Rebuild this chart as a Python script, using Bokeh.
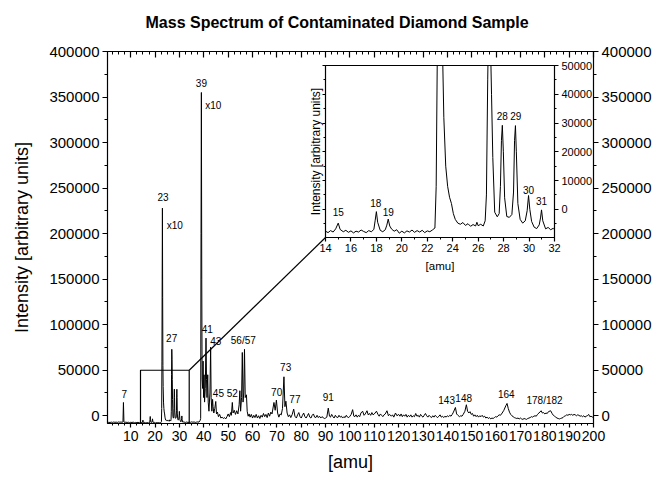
from bokeh.plotting import figure
from bokeh.models import LinearAxis, SingleIntervalTicker, BasicTickFormatter, Range1d
from bokeh.core.properties import value
from bokeh.embed import file_html
from bokeh.resources import INLINE

# ---------------- data ----------------
mz_low = [0.5, 1.0, 1.5, 2.0, 2.5, 3.0, 3.5, 4.0, 4.5, 5.0, 5.5, 6.0, 6.5, 6.8, 7.0, 7.2,
          7.5, 8.0, 8.5, 9.0, 9.5, 10.0, 10.5, 11.0, 11.5, 12.0, 12.5, 13.0, 13.5]
int_low = [-7500, -7200, -7400, -7000, -7300, -6900, -7200, -7000, -7300, -6800, -7100, -6900,
           -7200, -6800, 14600, -6900, -7300, -7000, -7400, -7100, -7500, -7200, -7400, -7000,
           -7600, -7300, -7500, -7200, -7700]

mz_zoom = [14.0, 14.2, 14.4, 14.6, 14.8, 15.0, 15.15, 15.4, 15.6, 15.8, 16.0, 16.2, 16.4, 16.6,
           16.8, 17.0, 17.2, 17.4, 17.6, 17.8, 17.9, 18.0, 18.1, 18.3, 18.5, 18.7, 18.82, 18.93,
           19.05, 19.2, 19.4, 19.6, 19.8, 20.0, 20.2, 20.4, 20.6, 20.8, 21.0, 21.2, 21.4, 21.6,
           21.8, 22.0, 22.2, 22.4, 22.6, 22.7, 22.8, 22.9, 23.0, 23.1, 23.2, 23.3, 23.45, 23.6,
           23.75, 23.9, 24.05, 24.2, 24.4, 24.6, 24.8, 25.0, 25.2, 25.4, 25.6, 25.8, 25.9, 26.0,
           26.2, 26.4, 26.55, 26.65, 26.75, 26.85, 26.95, 27.05, 27.15, 27.3, 27.5, 27.65, 27.75,
           27.83, 27.9, 27.98, 28.08, 28.25, 28.45, 28.65, 28.78, 28.86, 28.93, 29.0, 29.12, 29.3,
           29.5, 29.7, 29.85, 29.96, 30.06, 30.2, 30.4, 30.6, 30.8, 30.9, 30.98, 31.08, 31.3,
           31.5, 31.7, 31.9]
int_zoom = [-7600, -8100, -7400, -7900, -6800, -4800, -7000, -7800, -7300, -8000, -7500, -8200,
            -7600, -7900, -7200, -7700, -8100, -7400, -7800, -7000, -4000, -800, -4500, -7300,
            -7800, -7100, -5500, -3400, -5800, -6900, -7600, -7100, -8300, -7600, -8200, -7500,
            -7900, -7200, -8000, -7400, -7900, -7300, -8100, -7500, -7800, -7200, -6500, 8000,
            60000, 150000, 228000, 130000, 55000, 32000, 15000, 8000, 4200, 2000, -1500, -3500,
            -4800, -5200, -4600, -5600, -5000, -5900, -5300, -5800, -4500, -5700, -5200, -5800,
            -4000, 5000, 45000, 73000, 62000, 40000, 18000, -1000, -2600, -1500, 8000, 24000,
            29200, 20000, 4000, -2500, -2800, -1800, 6000, 24000, 29100, 20000, 2000, -3500,
            -4800, -4000, -500, 4800, 0, -4200, -6200, -6700, -5400, -3000, -200, -4000, -6800,
            -6300, -7100, -6600]

mz_high = [32.0, 32.5, 33.0, 33.5, 34.0, 34.5, 35.0, 35.5, 36.0, 36.5, 37.0, 37.5, 38.0, 38.5,
           38.7, 38.85, 39.0, 39.15, 39.3, 39.5, 39.7, 39.9, 40.1, 40.3, 40.6, 40.9, 41.1, 41.3,
           41.6, 41.8, 42.1, 42.5, 42.8, 43.0, 43.3, 43.6, 43.8, 44.1, 44.5, 44.9, 45.2, 45.6,
           46.0, 46.5, 47.0, 47.5, 48.0, 48.5, 49.0, 49.5, 50.0, 50.5, 51.0, 51.3, 51.7, 52.0,
           52.5, 53.0, 53.5, 54.0, 54.5, 54.8, 55.1, 55.5, 55.8, 56.1, 56.4, 56.7, 57.0, 57.5,
           57.8, 58.2, 58.6, 59.0, 59.5, 60.0, 60.5, 61.0, 61.5, 62.0, 62.5, 63.0, 63.5, 64.0,
           64.5, 65.0, 65.5, 66.0, 66.5, 67.0, 67.5, 68.0, 68.8, 69.3, 69.8, 70.3, 70.8, 71.3,
           71.8, 72.3, 72.9, 73.3, 73.7, 74.2, 74.7, 75.2, 75.7, 76.3, 76.9, 77.4, 78.0, 78.5,
           79.0, 79.5, 80.0, 80.5, 81.0, 81.5, 82.0, 82.5, 83.0, 83.5, 84.0, 84.5, 85.0, 85.5,
           86.0, 86.5, 87.0, 87.5, 88.0, 88.5, 89.0, 89.5, 90.0, 90.5, 91.1, 91.6, 92.0, 92.5,
           93.0, 93.5, 94.0, 94.5, 95.0, 95.5, 96.0, 96.5, 97.0, 97.5, 98.0, 98.5, 99.0, 99.5,
           100.0, 100.5, 101.1, 101.6, 102.0, 102.5, 103.0, 103.5, 104.0, 104.5, 105.2, 105.8,
           106.3, 107.0, 107.5, 108.0, 108.5, 109.0, 109.5, 110.0, 110.9, 111.5, 112.0, 112.5,
           113.0, 113.5, 114.0, 114.5, 115.2, 115.8, 116.3, 117.0, 117.5, 118.0, 118.7, 119.3,
           120.0, 120.5, 121.0, 121.5, 122.0, 122.5, 123.0, 123.5, 124.0, 124.5, 125.0, 125.5,
           126.0, 126.5, 127.0, 127.5, 128.0, 128.5, 129.0, 129.5, 130.0, 130.5, 131.0, 131.5,
           132.0, 132.5, 133.0, 133.5, 134.0, 134.5, 135.0, 135.5, 136.0, 136.5, 137.0, 137.5,
           138.0, 138.5, 139.0, 139.5, 140.0, 140.5, 141.0, 141.5, 142.0, 142.5, 143.3, 143.8,
           144.3, 145.0, 145.5, 146.0, 146.5, 147.2, 147.8, 148.3, 148.8, 149.3, 149.8, 150.3,
           150.8, 151.3, 151.8, 152.3, 152.8, 153.3, 153.8, 154.3, 154.8, 155.3, 155.8, 156.3,
           156.8, 157.3, 157.8, 158.3, 158.8, 159.3, 159.8, 160.3, 160.8, 161.3, 161.8, 162.5,
           163.2, 164.0, 164.5, 165.0, 165.5, 166.0, 166.5, 167.0, 167.5, 168.0, 168.5, 169.0,
           169.5, 170.0, 170.5, 171.0, 171.5, 172.0, 172.5, 173.0, 173.5, 174.0, 174.5, 175.0,
           175.5, 176.0, 176.5, 177.0, 177.6, 178.5, 179.0, 179.5, 180.0, 180.5, 181.0, 181.5,
           182.4, 183.0, 183.5, 184.0, 184.5, 185.0, 185.5, 186.0, 186.5, 187.0, 187.5, 188.0,
           188.5, 189.0, 189.5, 190.0, 190.5, 191.0, 191.5, 192.0, 192.5, 193.0, 193.5, 194.0,
           194.5, 195.0, 195.5, 196.0, 196.5, 197.0, 197.5, 198.0, 198.5, 199.0, 199.5, 200.0]
int_high = [-7100, -7300, -6900, -7400, -7000, -7200, -6700, -7100, -6800, -7300, -7000, -6800,
            -7000, -5000, -3000, 200000, 355000, 150000, 40000, 30000, 60000, 20000, 45000, 15000,
            30000, 85300, 40000, 20000, 45000, 15000, 5000, 25000, 75300, 20000, 5000, 18000,
            10000, 3000, 8000, 15700, 2000, 4000, -1000, 1500, -2500, -1500, -3000, -2000, -3500,
            -1000, 2000, -1000, 3500, 500, 14600, 3000, 6000, 1500, 5500, 2000, 12000, 27500, 5000,
            20000, 69500, 15000, 25000, 73000, 20000, 23000, 5000, -500, 2000, -1500, 1500, -2500,
            500, -2000, 1500, -2500, 0, -3000, 500, -1500, 2500, -1000, 1500, -2000, 3000, -500,
            4000, 2000, 14600, 6000, 17200, 3000, -1500, 2000, 1000, 8000, 42800, 10000, 16000,
            3000, -1000, 1000, -2000, 1500, 7300, -500, -2500, 1000, 3500, -1000, -2500, 500, 3000,
            -1000, -2500, 0, 2500, -1500, -2500, 500, 2000, -1500, -2000, 500, -2000, -500, -2500,
            -1000, -2000, -3000, -2500, -1500, 8400, -500, -1500, 1500, -1000, -2500, 500, -1500,
            -2000, 500, -1500, -500, -2500, -1000, -2000, 500, -1500, -2000, -500, 1500, 6700,
            -500, -1000, 1000, -1500, 500, -1000, 3000, 5000, 500, 2000, 5500, 1000, 2500, 500,
            3500, 1000, 2000, 5000, 1500, -500, 2000, 500, -1000, 1000, 2000, 5500, 0, 1500, -500,
            1000, -1500, 3000, 0, 1500, -500, 2000, -1000, 1000, -500, 1500, -1500, 500, -1000,
            1000, -1500, 0, -1000, 2500, -500, 500, -1500, 1500, -500, -1500, 500, 2500, 0, -1500,
            500, -1000, -2000, 0, -1500, 500, -1000, -2000, -500, 1000, -1500, -500, -2000, -500,
            -1500, 0, -1000, 500, -500, 1500, 4000, 9100, 2000, 500, -1000, 0, -500, 1500, 5000,
            12100, 5000, 3000, 4500, 1500, 2500, -500, 1000, -1000, 500, -1500, 0, -1000, 500,
            -1500, -500, -2500, -1500, -3000, -2000, -3500, -2500, -3000, -2000, -1000, -1500, 0,
            1000, 500, 3000, 6000, 11000, 13500, 8000, 4000, 1500, 0, -1000, -2000, -2500, -3000,
            -2500, -3500, -2500, -3500, -4000, -3000, -3500, -4000, -3000, -2500, -2000, -1000,
            -1500, -500, 0, -500, 1500, 3000, 5500, 3000, 3500, 2000, 3000, 2500, 4500, 5500, 2500,
            500, -500, -1500, -2500, -3000, -3500, -3000, -2500, -2000, -500, 0, 1000, 500, 1500,
            1000, 1500, 500, 1500, 1000, 0, 1000, 500, -500, 0, -1000, 0, -1500, -500, 0, 1500,
            -1000, -500, -1500, -1000]

mz = mz_low + mz_zoom + mz_high
intensity = int_low + int_zoom + int_high

main_labels = ["7", "23", "x10", "27", "39", "x10", "41", "43", "45", "52", "56/57", "70",
               "73", "77", "91", "143", "148", "164", "178/182"]
main_label_mz = [7.3, 23.25, 28.1, 26.8, 39.0, 43.9, 41.4, 44.9, 46.0, 51.7, 56.2, 69.9,
                 73.6, 77.4, 91.1, 139.7, 146.7, 164.2, 179.9]
main_label_int = [23800, 240700, 208600, 84900, 365900, 340300, 95800, 81600, 24500, 24500,
                  82300, 26000, 53000, 18300, 20900, 17200, 19000, 23800, 16500]

inset_labels = ["15", "18", "19", "28", "29", "30", "31"]
inset_label_mz = [15.0, 17.95, 18.93, 27.9, 28.96, 29.96, 30.98]
inset_label_int = [-1000, 2100, -1000, 32600, 32600, 6750, 2800]

zoom_box_mz = [14, 34]
zoom_box_int = [-8500, 50000]

TITLE = "Mass Spectrum of Contaminated Diamond Sample"
FONT = "Liberation Sans"

# ---------------- main figure ----------------
X0, X1 = 0.45, 200
Y0, Y1 = -8500, 400000
FL, FT, FW, FH = 107, 51, 486, 372  # main frame in page px

p = figure(width=654, height=477, x_range=Range1d(X0, X1), y_range=Range1d(Y0, Y1),
           output_backend="svg", toolbar_location=None,
           min_border_left=FL, min_border_top=FT,
           min_border_right=654 - FL - FW, min_border_bottom=477 - FT - FH)
p.xgrid.visible = False
p.ygrid.visible = False
p.outline_line_color = "black"
p.background_fill_color = "white"
p.border_fill_color = "white"

def style_axis(ax, size="14px", tick_out=5, tick_in=0, minor_out=3, minor_in=0):
    ax.axis_line_color = "black"
    ax.axis_line_width = 1.2
    ax.major_tick_line_color = "black"
    ax.major_tick_line_width = 1.2
    ax.minor_tick_line_color = "black"
    ax.minor_tick_line_width = 1.0
    ax.major_tick_out = tick_out
    ax.major_tick_in = tick_in
    ax.minor_tick_out = minor_out
    ax.minor_tick_in = minor_in
    ax.major_label_text_font = FONT
    ax.major_label_text_font_size = size
    ax.major_label_text_color = "black"
    ax.axis_label_text_font = FONT
    ax.axis_label_text_font_style = "normal"
    ax.axis_label_text_color = "black"

fmt = BasicTickFormatter(use_scientific=False)

xa = p.xaxis[0]
xa.ticker = SingleIntervalTicker(interval=10, num_minor_ticks=4)
style_axis(xa, "14px", 4, 0, 2, 0)
xa.major_label_standoff = 3
xa.axis_label = "[amu]"
xa.axis_label_text_font_size = "18px"
xa.axis_label_standoff = 8

ya = p.yaxis[0]
ya.ticker = SingleIntervalTicker(interval=50000, num_minor_ticks=2)
ya.formatter = fmt
style_axis(ya, "15px", 5, 0, 3, 0)
ya.major_label_standoff = 3
ya.axis_label = "Intensity [arbitrary units]"
ya.axis_label_text_font_size = "18px"
ya.axis_label_standoff = 14

ra = LinearAxis(ticker=SingleIntervalTicker(interval=50000, num_minor_ticks=2), formatter=fmt)
style_axis(ra, "15px", 5, 0, 3, 0)
ra.major_label_standoff = 3
p.add_layout(ra, "right")

ta = LinearAxis(ticker=SingleIntervalTicker(interval=10, num_minor_ticks=4))
style_axis(ta, "0px", 0, 6, 0, 3)
ta.major_label_text_alpha = 0
ta.major_label_standoff = 0
p.add_layout(ta, "above")

# trailing empty line lifts the title line up into the top margin
p.title.text = TITLE + "\n "
p.title.text_font = FONT
p.title.text_font_style = "bold"
p.title.text_font_size = "16px"
p.title.text_color = "black"
p.title.align = "left"
p.title.offset = 38
p.title.standoff = 8

p.line(mz, intensity, line_color="black", line_width=1.0)
p.text(x=main_label_mz, y=main_label_int, text=main_labels, text_font=value(FONT),
       text_font_size=value("10px"), text_align="center", text_baseline="middle",
       text_color="black")

# zoom box and connector line
p.line(x=[zoom_box_mz[0], zoom_box_mz[0], zoom_box_mz[1], zoom_box_mz[1]],
       y=[zoom_box_int[0], zoom_box_int[1], zoom_box_int[1], zoom_box_int[0]],
       line_color="black", line_width=1.2)

IL, IT, IW, IH = 325, 65, 229, 172  # inset frame in page px
corner_x = X0 + (IL - FL) / FW * (X1 - X0)
corner_y = Y1 - (IT + IH - FT) / FH * (Y1 - Y0)
p.line(x=[zoom_box_mz[1], corner_x], y=[zoom_box_int[1], corner_y],
       line_color="black", line_width=1.2)

# ---------------- inset figure ----------------
BL, BT, BR, BB = 30, 6, 50, 46
q = figure(width=BL + IW + BR, height=BT + IH + BB, x_range=Range1d(14, 32),
           y_range=Range1d(-9800, 50000), output_backend="svg", toolbar_location=None,
           min_border_left=BL, min_border_top=BT, min_border_right=BR, min_border_bottom=BB)
q.xgrid.visible = False
q.ygrid.visible = False
q.outline_line_color = "black"
q.background_fill_color = "white"
q.border_fill_alpha = 0

qx = q.xaxis[0]
qx.ticker = SingleIntervalTicker(interval=2, num_minor_ticks=2)
style_axis(qx, "11px", 4, 0, 2, 0)
qx.major_label_standoff = 2
qx.axis_label = "[amu]"
qx.axis_label_text_font_size = "11.5px"
qx.axis_label_standoff = 5

qy = q.yaxis[0]
qy.ticker = SingleIntervalTicker(interval=10000, num_minor_ticks=2)
style_axis(qy, "0px", 3, 0, 2, 0)
qy.major_label_text_alpha = 0
qy.major_label_standoff = 0
qy.axis_label = "Intensity [arbitrary units]"
qy.axis_label_text_font_size = "12px"
qy.axis_label_standoff = 0

qr = LinearAxis(ticker=SingleIntervalTicker(interval=10000, num_minor_ticks=2), formatter=fmt)
style_axis(qr, "11px", 4, 0, 2, 0)
qr.major_label_standoff = 3
q.add_layout(qr, "right")

q.line(mz, intensity, line_color="black", line_width=1.0)
q.text(x=inset_label_mz, y=inset_label_int, text=inset_labels, text_font=value(FONT),
       text_font_size=value("10px"), text_align="center", text_baseline="middle",
       text_color="black")

q.styles = {"position": "absolute", "left": f"{IL - BL}px", "top": f"{IT - BT}px",
            "z-index": "10"}

open("out.html", "w").write(file_html([p, q], INLINE))
